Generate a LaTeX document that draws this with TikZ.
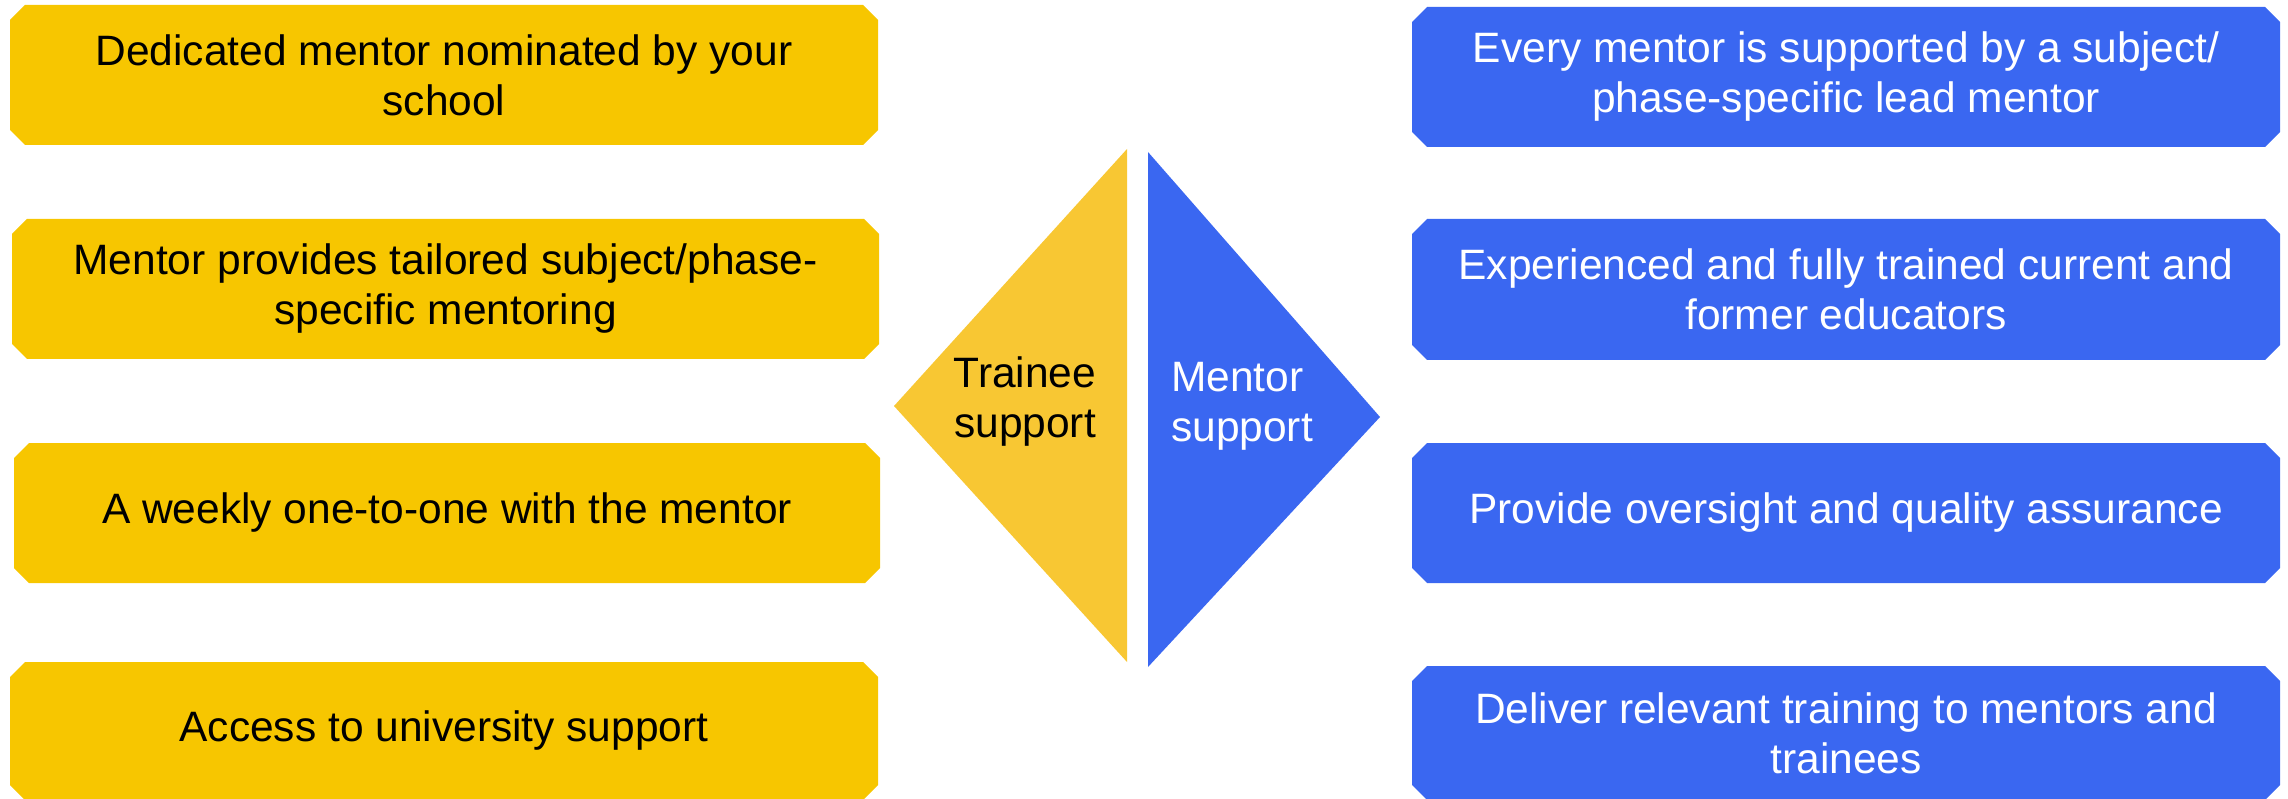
\documentclass[tikz,border=0pt]{standalone}
\usepackage{fontspec}
\setmainfont{Liberation Sans}
\usetikzlibrary{shapes.misc}
\definecolor{gold}{HTML}{F7C600}
\definecolor{goldtri}{HTML}{F8C733}
\definecolor{royal}{HTML}{3A67F1}
\begin{document}
\begin{tikzpicture}[x=1pt,y=-1pt,
  box/.style={chamfered rectangle, chamfered rectangle xsep=7.5pt, chamfered rectangle ysep=7.5pt,
    inner sep=0pt, outer sep=0pt, align=center, minimum width=868pt,
    font=\fontsize{42.5}{50}\selectfont},
  lbox/.style={box, fill=gold, text=black},
  rbox/.style={box, fill=royal, text=white},
  tritext/.style={inner sep=0pt, font=\fontsize{42.5}{50}\selectfont}]
\useasboundingbox (0,0) rectangle (2288,799);
% left column
\node[lbox, minimum height=140pt] (l1) at (444,75) {Dedicated mentor nominated by your\\school};
\node[lbox, minimum height=140pt, minimum width=867pt] (l2) at (445.5,289) {Mentor provides tailored subject/phase-\\specific mentoring};
\node[lbox, minimum height=140pt, minimum width=866pt] (l3) at (447,513) {A weekly one-to-one with the mentor};
\node[lbox, minimum height=138pt] (l4) at (444,731) {Access to university support};
% right column
\node[rbox, minimum height=140pt] (r1) at (1846,77) {Every mentor is supported by a subject/\\phase-specific lead mentor};
\node[rbox, minimum height=141pt] (r2) at (1846,289.5) {Experienced and fully trained current and\\former educators};
\node[rbox, minimum height=140pt] (r3) at (1846,513) {Provide oversight and quality assurance};
\node[rbox, minimum height=134pt] (r4) at (1846,733) {Deliver relevant training to mentors and\\trainees};
% central triangles
\fill[goldtri] (894,406) -- (1127,149) -- (1127,662) -- cycle;
\fill[royal] (1148,152) -- (1380,417) -- (1148,667) -- cycle;
\node[tritext, align=center, text=black] (trainee) at (1025,402) {Trainee\\support};
\node[tritext, align=left, text=white, anchor=west] (mentor) at (1171,406) {Mentor\\support};
\end{tikzpicture}
\end{document}
